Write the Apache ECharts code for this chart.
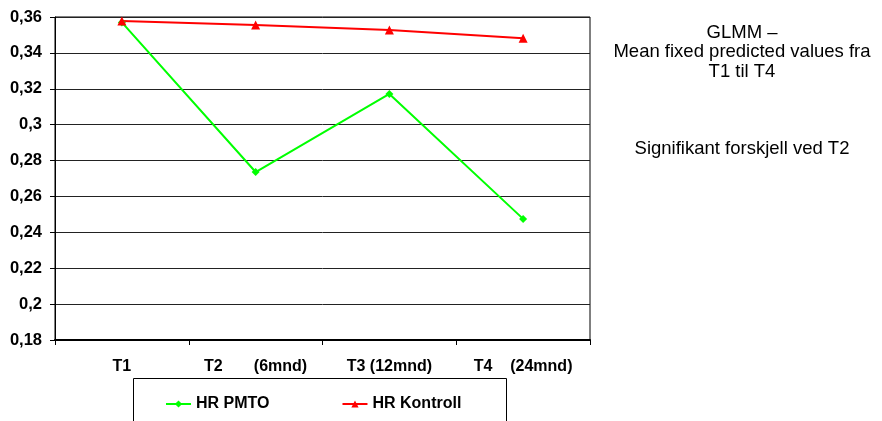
<!DOCTYPE html>
<html>
<head>
<meta charset="utf-8">
<script src="https://cdn.jsdelivr.net/npm/echarts@6/dist/echarts.min.js"></script>
<style>
  html, body { margin: 0; padding: 0; background: #fff; }
  #chart { width: 882px; height: 421px; }
</style>
</head>
<body>
<div id="chart"></div>
<script>
// Measurement points (labels padded with spaces as laid out under the axis)
const categories = ['T1', 'T2       (6mnd)', 'T3 (12mnd)', 'T4    (24mnd)'];
const pmtoValues = [0.357, 0.2736, 0.3171, 0.2475];
const kontrollValues = [0.3578, 0.3555, 0.3527, 0.3482];
const seriesNames = ['HR PMTO', 'HR Kontroll'];
const noteLines = ['GLMM –', 'Mean fixed predicted values fra', 'T1 til T4'];
const noteSignif = 'Signifikant forskjell ved T2';

const chart = echarts.init(document.getElementById('chart'));
const font = 'Liberation Sans, Arial, sans-serif';

chart.setOption({
  animation: false,
  backgroundColor: '#fff',
  grid: {
    left: 55, right: 292, top: 17, bottom: 81,
    show: true, borderColor: '#000', borderWidth: 1
  },
  xAxis: {
    type: 'category',
    data: categories,
    boundaryGap: true,
    axisLine: { lineStyle: { color: '#000', width: 2 } },
    axisTick: { show: true, interval: 0, length: 5, lineStyle: { color: '#000' } },
    axisLabel: {
      interval: 0, hideOverlap: false,
      color: '#000', fontFamily: font, fontWeight: 'bold', fontSize: 16,
      margin: 19
    }
  },
  yAxis: {
    type: 'value',
    min: 0.18, max: 0.36, interval: 0.02,
    axisLine: { show: true, lineStyle: { color: '#000', width: 1 } },
    axisTick: { show: true, length: 5, lineStyle: { color: '#000' } },
    splitLine: { lineStyle: { color: '#222', width: 1 } },
    axisLabel: {
      color: '#000', fontFamily: font, fontWeight: 'bold', fontSize: 16.5,
      margin: 13,
      formatter: v => String(parseFloat(v.toFixed(2))).replace('.', ',')
    }
  },
  legend: {
    left: 160, top: 391,
    itemWidth: 25, itemHeight: 9, itemGap: 72,
    textStyle: { color: '#000', fontFamily: font, fontWeight: 'bold', fontSize: 16 },
    data: seriesNames
  },
  graphic: [
    {
      type: 'rect', z: -1,
      shape: { x: 133.5, y: 378.5, width: 373, height: 60 },
      style: { fill: '#fff', stroke: '#000', lineWidth: 1 }
    },
    {
      type: 'text', x: 742, y: 23,
      style: {
        text: noteLines.join('\n'), textAlign: 'center',
        fill: '#000', fontFamily: font, fontSize: 18.5, lineHeight: 19.5
      }
    },
    {
      type: 'text', x: 742, y: 139,
      style: {
        text: noteSignif, textAlign: 'center',
        fill: '#000', fontFamily: font, fontSize: 18.5
      }
    }
  ],
  series: [
    {
      name: seriesNames[0], type: 'line', data: pmtoValues,
      symbol: 'diamond', symbolSize: 8,
      lineStyle: { color: '#00ff00', width: 2 },
      itemStyle: { color: '#00ff00' }
    },
    {
      name: seriesNames[1], type: 'line', data: kontrollValues,
      symbol: 'triangle', symbolSize: 9,
      lineStyle: { color: '#ff0000', width: 2 },
      itemStyle: { color: '#ff0000' }
    }
  ]
});
</script>
</body>
</html>
